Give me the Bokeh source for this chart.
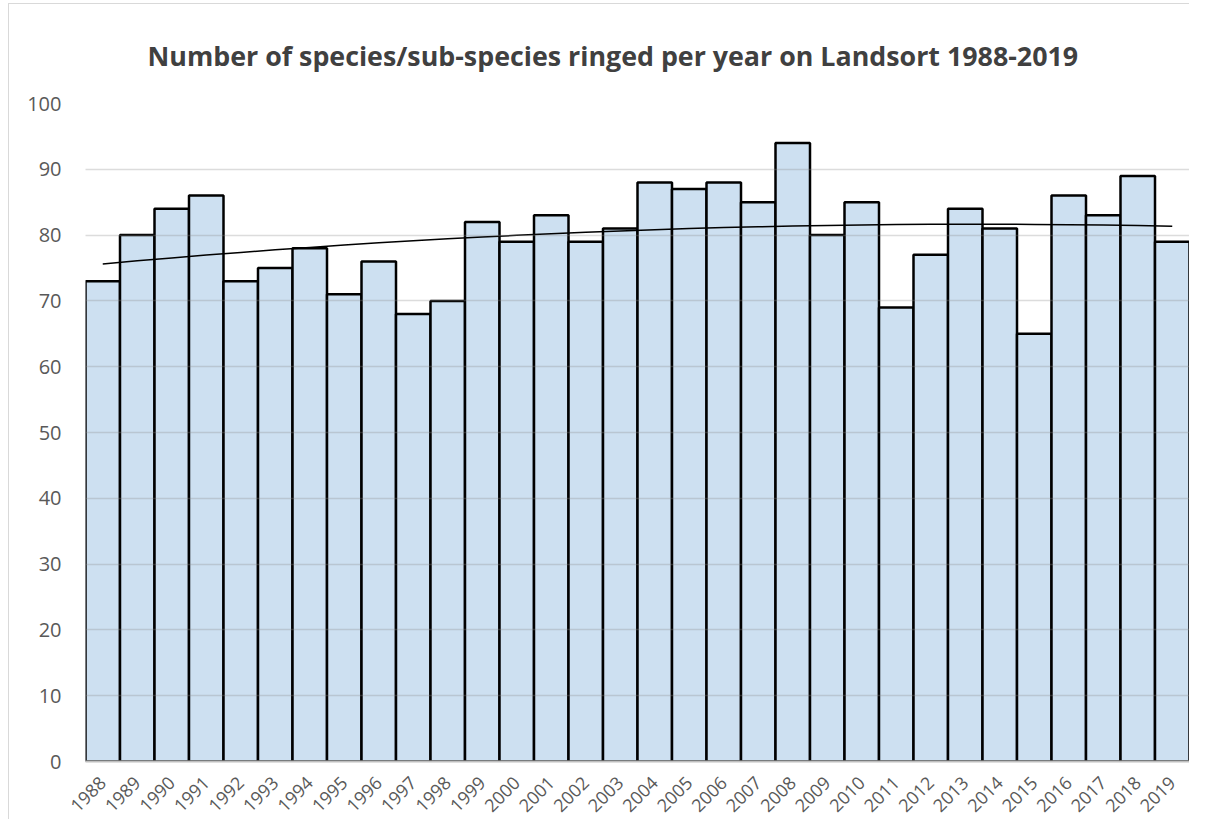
import numpy as np
from bokeh.plotting import figure
from bokeh.models import ColumnDataSource, FixedTicker, Range1d
from bokeh.embed import file_html
from bokeh.resources import INLINE

years = list(range(1988, 2020))
species = [73, 80, 84, 86, 73, 75, 78, 71, 76, 68, 70, 82, 79, 83, 79, 81,
           88, 87, 88, 85, 94, 80, 85, 69, 77, 84, 81, 65, 86, 83, 89, 79]
y_ticks = [0, 10, 20, 30, 40, 50, 60, 70, 80, 90, 100]
title_text = "Number of species/sub-species ringed per year on Landsort 1988-2019"

# polynomial (order 2) trendline fitted to the data
coef = np.polyfit(years, species, 2)
trend = np.polyval(coef, years)

src = ColumnDataSource(dict(x=years, y=species))
tsrc = ColumnDataSource(dict(x=years, y=trend))

FONT = "Open Sans"

p = figure(width=1181, height=816, output_backend="svg", toolbar_location=None,
           x_range=Range1d(years[0] - 0.5, years[-1] + 0.5),
           y_range=Range1d(0, 100),
           min_border_left=76, min_border_right=1, min_border_top=99, min_border_bottom=59)
p.styles = {"margin-left": "8px", "margin-top": "3px",
            "border-left": "1px solid #D9D9D9", "border-top": "1px solid #D9D9D9"}

p.title.text = title_text
p.title.text_font = FONT
p.title.text_font_style = "bold"
p.title.text_font_size = "26.8px"
p.title.text_color = "#404040"
p.title.align = "left"
p.title.offset = 62
p.title.standoff = 59

p.outline_line_color = None
p.background_fill_color = "white"
p.border_fill_color = "white"

p.vbar(x="x", top="y", width=1.0, source=src, fill_color="#CDE0F1",
       line_color="black", line_width=2.5)
p.line(x="x", y="y", source=tsrc, line_color="black", line_width=1.5)

p.xgrid.grid_line_color = None
p.ygrid.grid_line_color = "#8C8C8C"
p.ygrid.grid_line_alpha = 0.3
p.ygrid.grid_line_width = 1.5
p.ygrid.ticker = FixedTicker(ticks=y_ticks)
p.ygrid.level = "annotation"

p.yaxis.ticker = FixedTicker(ticks=y_ticks)
p.yaxis.axis_line_color = None
p.yaxis.major_tick_line_color = None
p.yaxis.minor_tick_line_color = None
p.yaxis.major_label_text_font = FONT
p.yaxis.major_label_text_font_size = "20px"
p.yaxis.major_label_text_color = "#595959"
p.yaxis.major_label_standoff = 18

p.xaxis.ticker = FixedTicker(ticks=years)
p.xaxis.major_label_overrides = {y: str(y) for y in years}
p.xaxis.axis_line_color = "#BFBFBF"
p.xaxis.axis_line_width = 2
p.xaxis.major_tick_line_color = None
p.xaxis.minor_tick_line_color = None
p.xaxis.major_label_orientation = np.pi / 4
p.xaxis.major_label_text_font = FONT
p.xaxis.major_label_text_font_size = "18px"
p.xaxis.major_label_text_color = "#595959"
p.xaxis.major_label_standoff = 12

open("out.html", "w").write(file_html(p, INLINE))
